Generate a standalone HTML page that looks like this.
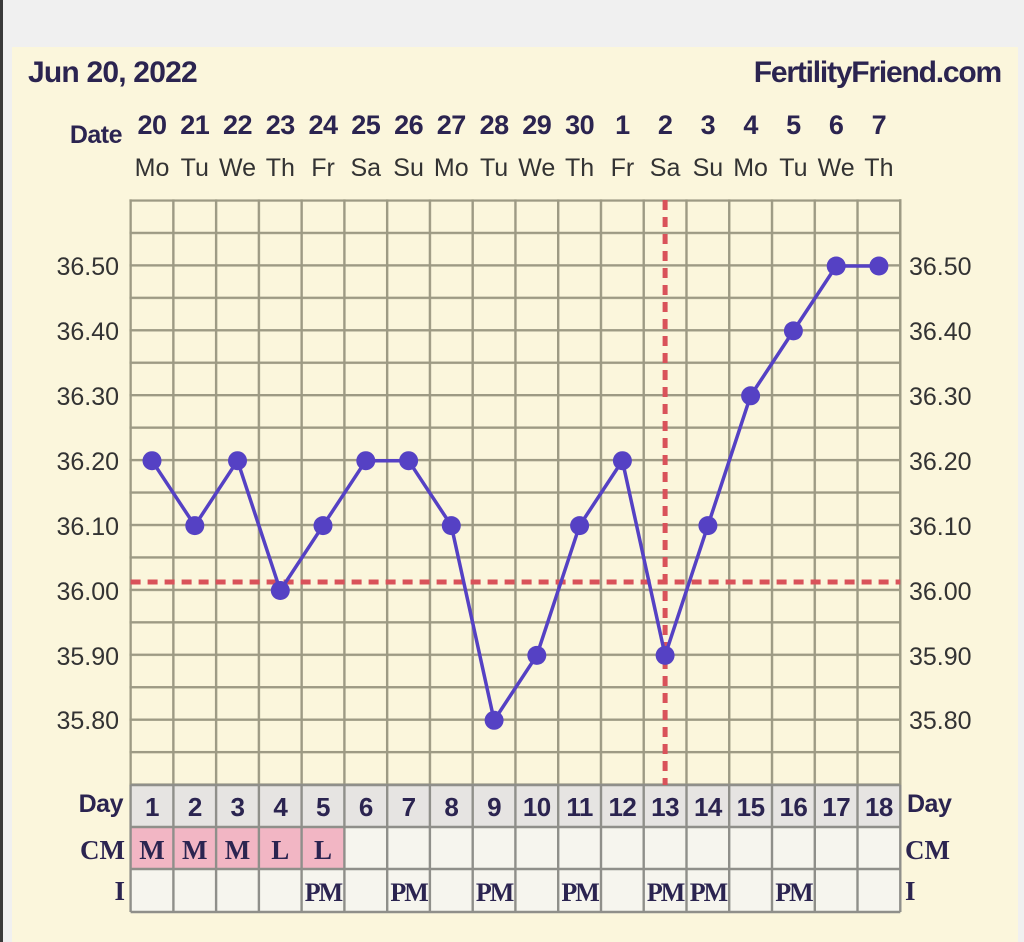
<!DOCTYPE html>
<html><head><meta charset="utf-8"><style>
html,body{margin:0;padding:0;width:1024px;height:942px;overflow:hidden;background:#f0f0f0}
svg{display:block}
</style></head><body>
<svg width="1024" height="942" xmlns="http://www.w3.org/2000/svg" font-family="Liberation Sans, sans-serif">
<defs>
<pattern id="g" x="129.4" y="199.3" width="42.76" height="32.45" patternUnits="userSpaceOnUse">
<path d="M0 1.2H42.76M1.2 0V32.45" stroke="#9d9a84" stroke-width="2.4" fill="none"/>
</pattern>
</defs>
<rect x="0" y="0" width="3" height="942" fill="#3a3a3a"/>
<rect x="12" y="47" width="1006" height="895" fill="#fbf6dc"/>
<text x="28" y="82" font-size="30" font-weight="bold" fill="#2b2450" letter-spacing="-0.8">Jun 20, 2022</text>
<text x="1001" y="82" font-size="30" font-weight="bold" fill="#2b2450" text-anchor="end" letter-spacing="-1.2">FertilityFriend.com</text>
<text x="122" y="143" font-size="25" font-weight="bold" fill="#2b2450" text-anchor="end" letter-spacing="-0.5">Date</text>
<g font-size="27" font-weight="bold" fill="#2b2450" text-anchor="middle" letter-spacing="-0.5">
<text x="152" y="134">20</text><text x="194.8" y="134">21</text><text x="237.5" y="134">22</text><text x="280.3" y="134">23</text><text x="323" y="134">24</text><text x="365.8" y="134">25</text><text x="408.6" y="134">26</text><text x="451.3" y="134">27</text><text x="494.1" y="134">28</text><text x="536.8" y="134">29</text><text x="579.6" y="134">30</text><text x="622.4" y="134">1</text><text x="665.1" y="134">2</text><text x="707.9" y="134">3</text><text x="750.6" y="134">4</text><text x="793.4" y="134">5</text><text x="836.2" y="134">6</text><text x="878.9" y="134">7</text>
</g>
<g font-size="25" fill="#333" text-anchor="middle">
<text x="152" y="176">Mo</text><text x="194.8" y="176">Tu</text><text x="237.5" y="176">We</text><text x="280.3" y="176">Th</text><text x="323" y="176">Fr</text><text x="365.8" y="176">Sa</text><text x="408.6" y="176">Su</text><text x="451.3" y="176">Mo</text><text x="494.1" y="176">Tu</text><text x="536.8" y="176">We</text><text x="579.6" y="176">Th</text><text x="622.4" y="176">Fr</text><text x="665.1" y="176">Sa</text><text x="707.9" y="176">Su</text><text x="750.6" y="176">Mo</text><text x="793.4" y="176">Tu</text><text x="836.2" y="176">We</text><text x="878.9" y="176">Th</text>
</g>
<rect x="129.4" y="199.3" width="772" height="586" fill="url(#g)"/>
<line x1="900.3" y1="199.3" x2="900.3" y2="785" stroke="#9d9a84" stroke-width="2.4"/>
<!-- table -->
<rect x="130.6" y="785" width="769.7" height="42" fill="#e6e4e2"/>
<rect x="130.6" y="827" width="769.7" height="85" fill="#f6f5ee"/>
<rect x="130.6" y="827" width="213.8" height="42" fill="#f2b6c4"/>
<g stroke="#8f8f8a" stroke-width="2.4">
<line x1="130.6" y1="785" x2="900.3" y2="785"/><line x1="130.6" y1="827" x2="900.3" y2="827"/><line x1="130.6" y1="869" x2="900.3" y2="869"/><line x1="130.6" y1="912" x2="900.3" y2="912"/>
<path d="M130.6 785V912M173.4 785V912M216.1 785V912M258.9 785V912M301.6 785V912M344.4 785V912M387.2 785V912M429.9 785V912M472.7 785V912M515.4 785V912M558.2 785V912M601 785V912M643.7 785V912M686.5 785V912M729.2 785V912M772 785V912M814.8 785V912M857.5 785V912M900.3 785V912"/>
</g>
<g font-size="26" font-weight="bold" fill="#2b2450" text-anchor="middle" letter-spacing="-0.5">
<text x="152" y="816">1</text><text x="194.8" y="816">2</text><text x="237.5" y="816">3</text><text x="280.3" y="816">4</text><text x="323" y="816">5</text><text x="365.8" y="816">6</text><text x="408.6" y="816">7</text><text x="451.3" y="816">8</text><text x="494.1" y="816">9</text><text x="536.8" y="816">10</text><text x="579.6" y="816">11</text><text x="622.4" y="816">12</text><text x="665.1" y="816">13</text><text x="707.9" y="816">14</text><text x="750.6" y="816">15</text><text x="793.4" y="816">16</text><text x="836.2" y="816">17</text><text x="878.9" y="816">18</text>
</g>
<g font-size="27" font-weight="bold" fill="#2b2450" font-family="Liberation Serif, serif" text-anchor="middle">
<text x="152" y="859">M</text><text x="194.8" y="859">M</text><text x="237.5" y="859">M</text><text x="280.3" y="859">L</text><text x="323" y="859">L</text>
<g font-size="26" letter-spacing="-2"><text x="323" y="901">PM</text><text x="408.6" y="901">PM</text><text x="494.1" y="901">PM</text><text x="579.6" y="901">PM</text><text x="665.1" y="901">PM</text><text x="707.9" y="901">PM</text><text x="793.4" y="901">PM</text></g>
<text x="125" y="859" text-anchor="end">CM</text><text x="125" y="900" text-anchor="end">I</text>
<text x="905" y="859" text-anchor="start">CM</text><text x="905" y="900" text-anchor="start">I</text>
</g>
<g font-size="25" font-weight="bold" fill="#2b2450" letter-spacing="-0.5">
<text x="123" y="812" text-anchor="end">Day</text><text x="907" y="812">Day</text>
</g>
<!-- axis labels -->
<g font-size="25" fill="#333">
<g text-anchor="end"><text x="119" y="275">36.50</text><text x="119" y="340">36.40</text><text x="119" y="405">36.30</text><text x="119" y="470">36.20</text><text x="119" y="535">36.10</text><text x="119" y="600">36.00</text><text x="119" y="665">35.90</text><text x="119" y="729">35.80</text></g>
<g><text x="909" y="275">36.50</text><text x="909" y="340">36.40</text><text x="909" y="405">36.30</text><text x="909" y="470">36.20</text><text x="909" y="535">36.10</text><text x="909" y="600">36.00</text><text x="909" y="665">35.90</text><text x="909" y="729">35.80</text></g>
</g>
<!-- coverline / ovulation -->
<line x1="130.6" y1="582" x2="900.3" y2="582" stroke="#d9525a" stroke-width="5" stroke-dasharray="10,7"/>
<line x1="665.1" y1="200" x2="665.1" y2="785" stroke="#d9525a" stroke-width="5" stroke-dasharray="10,7"/>
<!-- data -->
<polyline fill="none" stroke="#5541c4" stroke-width="3.5" points="152,460.7 194.8,525.6 237.5,460.7 280.3,590.5 323,525.6 365.8,460.7 408.6,460.7 451.3,525.6 494.1,720.3 536.8,655.4 579.6,525.6 622.4,460.7 665.1,655.4 707.9,525.6 750.6,395.8 793.4,330.9 836.2,266 878.9,266"/>
<g fill="#5541c4">
<circle cx="152" cy="460.7" r="9.5"/><circle cx="194.8" cy="525.6" r="9.5"/><circle cx="237.5" cy="460.7" r="9.5"/><circle cx="280.3" cy="590.5" r="9.5"/><circle cx="323" cy="525.6" r="9.5"/><circle cx="365.8" cy="460.7" r="9.5"/><circle cx="408.6" cy="460.7" r="9.5"/><circle cx="451.3" cy="525.6" r="9.5"/><circle cx="494.1" cy="720.3" r="9.5"/><circle cx="536.8" cy="655.4" r="9.5"/><circle cx="579.6" cy="525.6" r="9.5"/><circle cx="622.4" cy="460.7" r="9.5"/><circle cx="665.1" cy="655.4" r="9.5"/><circle cx="707.9" cy="525.6" r="9.5"/><circle cx="750.6" cy="395.8" r="9.5"/><circle cx="793.4" cy="330.9" r="9.5"/><circle cx="836.2" cy="266" r="9.5"/><circle cx="878.9" cy="266" r="9.5"/>
</g>
</svg>
</body></html>
